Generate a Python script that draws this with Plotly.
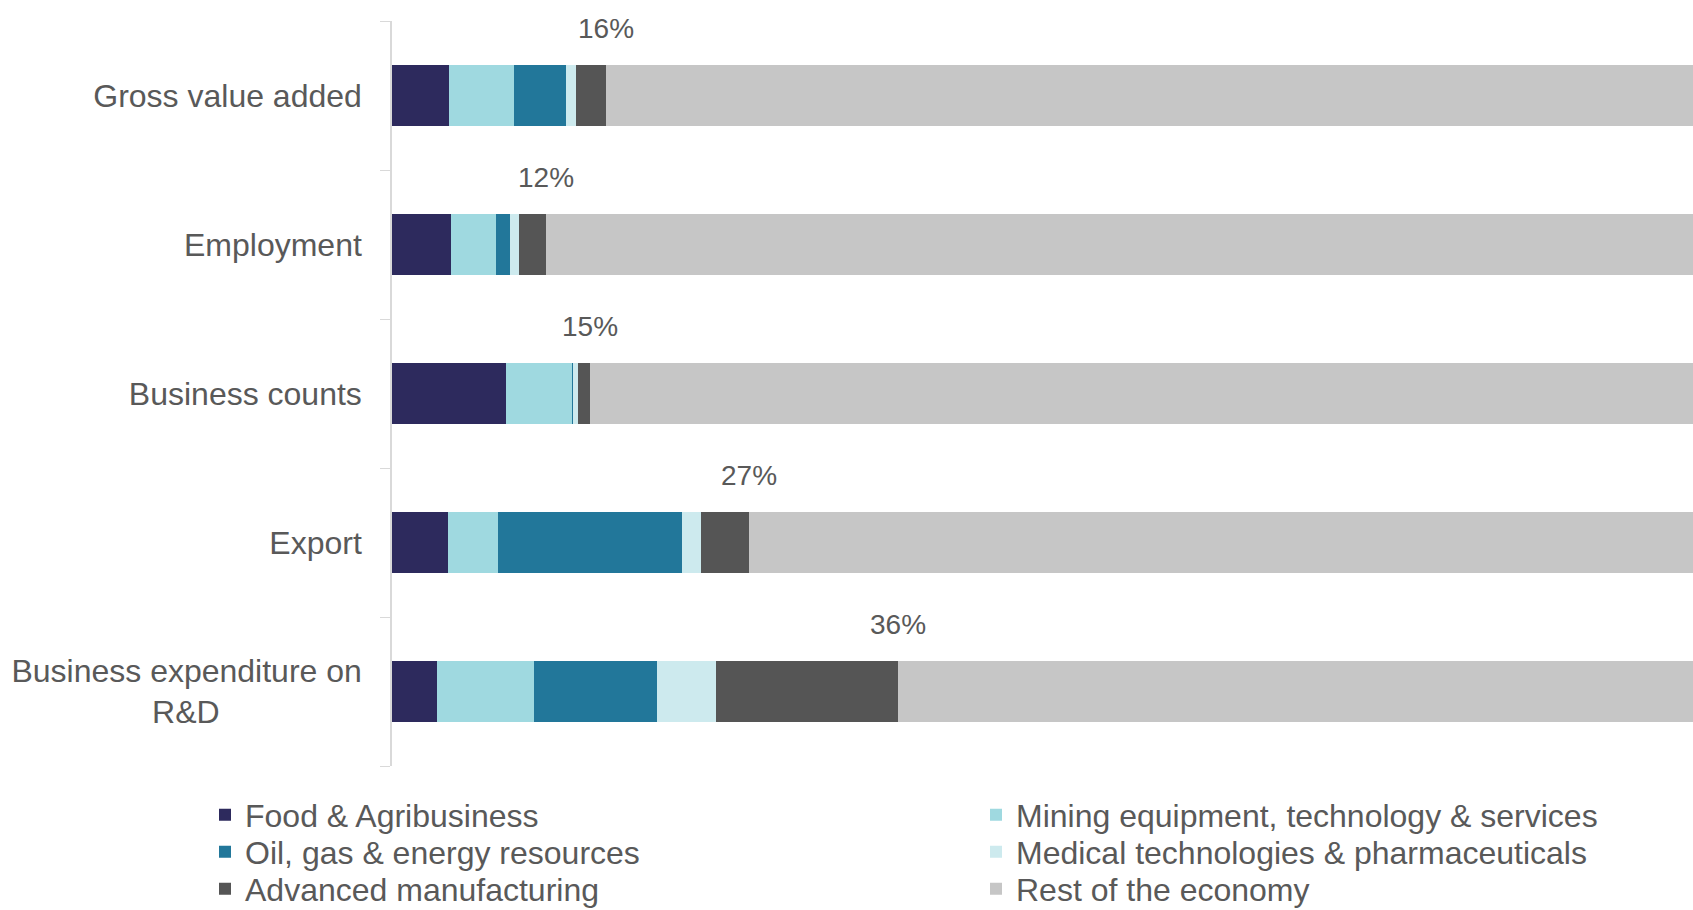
import plotly.graph_objects as go

categories = ["Gross value added", "Employment", "Business counts", "Export",
              "Business expenditure on R&D"]
tick_labels = ["Gross value added", "Employment", "Business counts", "Export",
               "Business expenditure on<br>R&D" + "\u00a0" * 16]

food = [4.35, 4.53, 8.73, 4.30, 3.41]
mining = [4.94, 3.41, 5.04, 3.77, 7.42]
oil = [4.02, 1.09, 0.08, 14.07, 9.38]
medical = [0.71, 0.64, 0.33, 1.48, 4.53]
advanced = [2.29, 2.11, 0.92, 3.66, 13.88]
rest = [83.69, 88.22, 84.90, 72.72, 61.38]

total_labels = ["16%", "12%", "15%", "27%", "36%"]

series = [
    ("Food & Agribusiness", food, "#2d2a5d"),
    ("Mining equipment, technology & services", mining, "#9fd9e0"),
    ("Oil, gas & energy resources", oil, "#22779a"),
    ("Medical technologies & pharmaceuticals", medical, "#cdeaee"),
    ("Advanced manufacturing", advanced, "#555555"),
    ("Rest of the economy", rest, "#c6c6c6"),
]

# legend grid placement (column left px, row centre px) for each series
legend_cols = [205, 976]
legend_rows = [815, 852, 889]

fig = go.Figure()
legend_layouts = {}
for i, (name, vals, col) in enumerate(series):
    lname = "legend" if i == 0 else f"legend{i + 1}"
    fig.add_trace(go.Bar(
        y=categories, x=vals, name=name, orientation="h",
        marker=dict(color=col, line=dict(width=0)),
        hoverinfo="x+name", legend=lname,
    ))
    lx = legend_cols[i % 2]
    ly = legend_rows[i // 2]
    legend_layouts[lname] = dict(
        xref="container", yref="container",
        x=lx / 1693, xanchor="left",
        y=1 - ly / 910, yanchor="middle",
        font=dict(family="Liberation Sans, Arial", size=32, color="#595959"),
        bgcolor="rgba(0,0,0,0)", borderwidth=0,
    )

sector_sums = [sum(v) for v in zip(food, mining, oil, medical, advanced)]
for cat, s, lab in zip(categories, sector_sums, total_labels):
    fig.add_annotation(
        x=s, y=cat, text=lab, showarrow=False, yshift=67,
        xanchor="center", yanchor="middle",
        font=dict(family="Liberation Sans, Arial", size=28, color="#595959"),
    )

fig.update_layout(
    barmode="stack",
    bargap=0.59,
    width=1693, height=910,
    margin=dict(l=392, r=0, t=21, b=144, autoexpand=False),
    plot_bgcolor="white", paper_bgcolor="white",
    showlegend=True,
    **legend_layouts,
)
fig.update_xaxes(range=[0, 99.3], showticklabels=False, showgrid=False,
                 zeroline=False, showline=False, ticks="")
fig.update_yaxes(
    autorange=False, range=[4.5, -0.5],
    tickmode="array", tickvals=categories, ticktext=tick_labels,
    tickson="boundaries", ticks="outside", ticklen=10, tickcolor="#d9d9d9",
    showline=True, linecolor="#d9d9d9", linewidth=1.5,
    showgrid=False, zeroline=False, ticklabelstandoff=22,
    tickfont=dict(family="Liberation Sans, Arial", size=32, color="#595959"),
)

fig.write_html("out.html")
